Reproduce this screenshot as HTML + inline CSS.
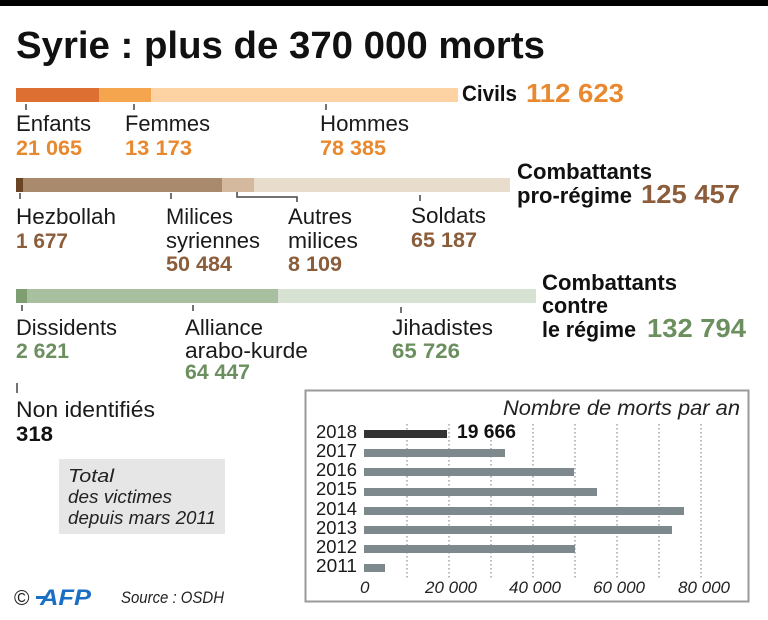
<!DOCTYPE html>
<html>
<head>
<meta charset="utf-8">
<style>
  html, body { margin:0; padding:0; background:#fff; }
  svg { display:block; }
  text { font-family: "Liberation Sans", sans-serif; }
  .r { font-size:22px; fill:#1a1a1a; }
  .b { font-size:21px; font-weight:bold; }
  .bb { font-size:22px; font-weight:bold; fill:#111; }
  .big { font-size:26px; font-weight:bold; }
  .o { fill:#e8892f; }
  .br { fill:#8b5d3b; }
  .g { fill:#6b8f5e; }
  .it { font-style:italic; fill:#222; }
</style>
</head>
<body>
<svg width="768" height="620" viewBox="0 0 768 620" xmlns="http://www.w3.org/2000/svg">
  <rect x="0" y="0" width="768" height="620" fill="#fff"/>
  <rect x="0" y="0" width="768" height="6" fill="#000"/>

  <!-- Title -->
  <text x="16" y="58" font-size="38" font-weight="bold" fill="#111" textLength="529" lengthAdjust="spacingAndGlyphs">Syrie : plus de 370 000 morts</text>

  <!-- Civils bar -->
  <rect x="16" y="88" width="83" height="14" fill="#de6f33"/>
  <rect x="99" y="88" width="52" height="14" fill="#f5a54e"/>
  <rect x="151" y="88" width="307" height="14" fill="#fdd3a3"/>
  <g stroke="#444" stroke-width="1.5">
    <line x1="26" y1="104" x2="26" y2="110"/>
    <line x1="134" y1="104" x2="134" y2="110"/>
    <line x1="326" y1="104" x2="326" y2="110"/>
  </g>
  <text class="r" x="16" y="131" textLength="75" lengthAdjust="spacingAndGlyphs">Enfants</text>
  <text class="b o" x="16" y="155" textLength="66" lengthAdjust="spacingAndGlyphs">21 065</text>
  <text class="r" x="125" y="131" textLength="85" lengthAdjust="spacingAndGlyphs">Femmes</text>
  <text class="b o" x="125" y="155" textLength="67" lengthAdjust="spacingAndGlyphs">13 173</text>
  <text class="r" x="320" y="131" textLength="89" lengthAdjust="spacingAndGlyphs">Hommes</text>
  <text class="b o" x="320" y="155" textLength="66" lengthAdjust="spacingAndGlyphs">78 385</text>
  <text class="bb" x="462" y="101" textLength="55" lengthAdjust="spacingAndGlyphs">Civils</text>
  <text class="big o" x="526" y="102" textLength="98" lengthAdjust="spacingAndGlyphs">112 623</text>

  <!-- Pro-régime bar -->
  <rect x="16" y="178" width="7" height="14" fill="#6b4426"/>
  <rect x="23" y="178" width="199" height="14" fill="#a98a6c"/>
  <rect x="222" y="178" width="32" height="14" fill="#d4b99f"/>
  <rect x="254" y="178" width="256" height="14" fill="#e8dccd"/>
  <g stroke="#444" stroke-width="1.5" fill="none">
    <line x1="20" y1="193" x2="20" y2="199"/>
    <line x1="171" y1="193" x2="171" y2="199"/>
    <path d="M237 192 V197 H297 V202"/>
    <line x1="420" y1="195" x2="420" y2="201"/>
  </g>
  <text class="r" x="16" y="224" textLength="100" lengthAdjust="spacingAndGlyphs">Hezbollah</text>
  <text class="b br" x="16" y="248" textLength="52" lengthAdjust="spacingAndGlyphs">1 677</text>
  <text class="r" x="166" y="224" textLength="67" lengthAdjust="spacingAndGlyphs">Milices</text>
  <text class="r" x="166" y="248" textLength="94" lengthAdjust="spacingAndGlyphs">syriennes</text>
  <text class="b br" x="166" y="271" textLength="66" lengthAdjust="spacingAndGlyphs">50 484</text>
  <text class="r" x="288" y="224" textLength="64" lengthAdjust="spacingAndGlyphs">Autres</text>
  <text class="r" x="288" y="248" textLength="70" lengthAdjust="spacingAndGlyphs">milices</text>
  <text class="b br" x="288" y="271" textLength="54" lengthAdjust="spacingAndGlyphs">8 109</text>
  <text class="r" x="411" y="223" textLength="75" lengthAdjust="spacingAndGlyphs">Soldats</text>
  <text class="b br" x="411" y="247" textLength="66" lengthAdjust="spacingAndGlyphs">65 187</text>
  <text class="bb" x="517" y="179" textLength="135" lengthAdjust="spacingAndGlyphs">Combattants</text>
  <text class="bb" x="517" y="203" textLength="115" lengthAdjust="spacingAndGlyphs">pro-régime</text>
  <text class="big br" x="641" y="203" textLength="99" lengthAdjust="spacingAndGlyphs">125 457</text>

  <!-- Contre le régime bar -->
  <rect x="16" y="289" width="11" height="14" fill="#7f9f73"/>
  <rect x="27" y="289" width="251" height="14" fill="#a8c09f"/>
  <rect x="278" y="289" width="258" height="14" fill="#d8e2d3"/>
  <g stroke="#444" stroke-width="1.5">
    <line x1="22" y1="305" x2="22" y2="311"/>
    <line x1="193" y1="305" x2="193" y2="311"/>
    <line x1="401" y1="307" x2="401" y2="313"/>
  </g>
  <text class="r" x="16" y="335" textLength="101" lengthAdjust="spacingAndGlyphs">Dissidents</text>
  <text class="b g" x="16" y="358" textLength="53" lengthAdjust="spacingAndGlyphs">2 621</text>
  <text class="r" x="185" y="335" textLength="78" lengthAdjust="spacingAndGlyphs">Alliance</text>
  <text class="r" x="185" y="358" textLength="123" lengthAdjust="spacingAndGlyphs">arabo-kurde</text>
  <text class="b g" x="185" y="379" textLength="65" lengthAdjust="spacingAndGlyphs">64 447</text>
  <text class="r" x="392" y="335" textLength="101" lengthAdjust="spacingAndGlyphs">Jihadistes</text>
  <text class="b g" x="392" y="358" textLength="68" lengthAdjust="spacingAndGlyphs">65 726</text>
  <text class="bb" x="542" y="290" textLength="135" lengthAdjust="spacingAndGlyphs">Combattants</text>
  <text class="bb" x="542" y="313" textLength="66" lengthAdjust="spacingAndGlyphs">contre</text>
  <text class="bb" x="542" y="337" textLength="94" lengthAdjust="spacingAndGlyphs">le régime</text>
  <text class="big g" x="647" y="337" textLength="99" lengthAdjust="spacingAndGlyphs">132 794</text>

  <!-- Non identifiés -->
  <line x1="17" y1="383" x2="17" y2="393" stroke="#444" stroke-width="1.5"/>
  <text class="r" x="16" y="417" textLength="139" lengthAdjust="spacingAndGlyphs">Non identifiés</text>
  <text class="b" x="16" y="441" fill="#111" textLength="37" lengthAdjust="spacingAndGlyphs">318</text>

  <!-- Total box -->
  <rect x="59" y="459" width="166" height="75" fill="#e6e6e6"/>
  <text class="it" x="68" y="482" font-size="18" textLength="46" lengthAdjust="spacingAndGlyphs">Total</text>
  <text class="it" x="68" y="503" font-size="18" textLength="104" lengthAdjust="spacingAndGlyphs">des victimes</text>
  <text class="it" x="68" y="524" font-size="18" textLength="148" lengthAdjust="spacingAndGlyphs">depuis mars 2011</text>

  <!-- Footer -->
  <text x="14" y="605" font-size="21" fill="#222">©</text>
  <rect x="36" y="596" width="10" height="3" fill="#1a6fc4"/>
  <text x="40" y="605" font-size="22" font-weight="bold" font-style="italic" fill="#1a6fc4" textLength="51" lengthAdjust="spacingAndGlyphs">AFP</text>
  <text class="it" x="121" y="603" font-size="16.5" textLength="103" lengthAdjust="spacingAndGlyphs">Source : OSDH</text>

  <!-- Yearly chart box -->
  <rect x="305.5" y="390.5" width="443" height="211" fill="#fff" stroke="#9a9a9a" stroke-width="2"/>
  <text class="it" x="503" y="415" font-size="21" textLength="237" lengthAdjust="spacingAndGlyphs">Nombre de morts par an</text>

  <g stroke="#777" stroke-width="1" stroke-dasharray="1.5,2.5">
    <line x1="407" y1="424" x2="407" y2="578"/>
    <line x1="449" y1="424" x2="449" y2="578"/>
    <line x1="491" y1="424" x2="491" y2="578"/>
    <line x1="533" y1="424" x2="533" y2="578"/>
    <line x1="575" y1="424" x2="575" y2="578"/>
    <line x1="617" y1="424" x2="617" y2="578"/>
    <line x1="659" y1="424" x2="659" y2="578"/>
    <line x1="701" y1="424" x2="701" y2="578"/>
  </g>

  <rect x="364" y="430" width="83" height="8" fill="#333"/>
  <rect x="364" y="449" width="141" height="8" fill="#7d898d"/>
  <rect x="364" y="468" width="210" height="8" fill="#7d898d"/>
  <rect x="364" y="488" width="233" height="8" fill="#7d898d"/>
  <rect x="364" y="507" width="320" height="8" fill="#7d898d"/>
  <rect x="364" y="526" width="308" height="8" fill="#7d898d"/>
  <rect x="364" y="545" width="211" height="8" fill="#7d898d"/>
  <rect x="364" y="564" width="21" height="8" fill="#7d898d"/>

  <g font-size="18" fill="#1a1a1a">
    <text x="316" y="438" textLength="41" lengthAdjust="spacingAndGlyphs">2018</text>
    <text x="316" y="457" textLength="41" lengthAdjust="spacingAndGlyphs">2017</text>
    <text x="316" y="476" textLength="41" lengthAdjust="spacingAndGlyphs">2016</text>
    <text x="316" y="495" textLength="41" lengthAdjust="spacingAndGlyphs">2015</text>
    <text x="316" y="515" textLength="41" lengthAdjust="spacingAndGlyphs">2014</text>
    <text x="316" y="534" textLength="41" lengthAdjust="spacingAndGlyphs">2013</text>
    <text x="316" y="553" textLength="41" lengthAdjust="spacingAndGlyphs">2012</text>
    <text x="316" y="572" textLength="41" lengthAdjust="spacingAndGlyphs">2011</text>
  </g>
  <text x="457" y="438" font-size="19" font-weight="bold" fill="#111" textLength="59" lengthAdjust="spacingAndGlyphs">19 666</text>

  <g class="it" font-size="17" font-style="italic" fill="#222">
    <text x="360" y="593">0</text>
    <text x="425" y="593" textLength="52" lengthAdjust="spacingAndGlyphs">20 000</text>
    <text x="509" y="593" textLength="52" lengthAdjust="spacingAndGlyphs">40 000</text>
    <text x="593" y="593" textLength="52" lengthAdjust="spacingAndGlyphs">60 000</text>
    <text x="678" y="593" textLength="52" lengthAdjust="spacingAndGlyphs">80 000</text>
  </g>
</svg>
</body>
</html>
